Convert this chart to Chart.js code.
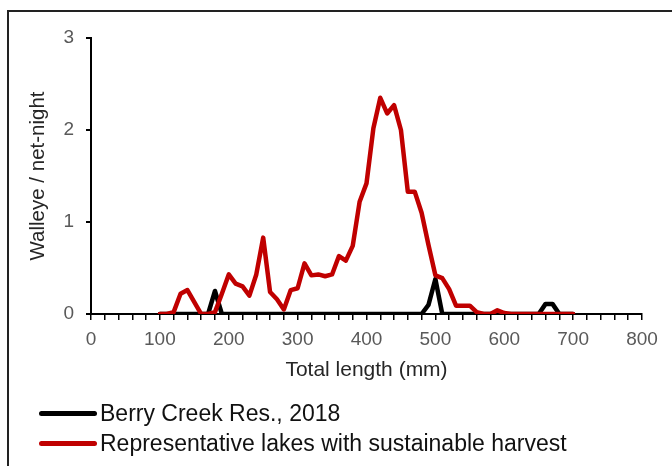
<!DOCTYPE html>
<html>
<head>
<meta charset="utf-8">
<script src="https://cdn.jsdelivr.net/npm/chart.js@4/dist/chart.umd.min.js"></script>
<style>
  html, body { margin: 0; padding: 0; background: #fff; }
  body { width: 672px; height: 466px; position: relative; overflow: hidden; font-family: 'Liberation Sans', Arial, sans-serif; }
  #frame { position: absolute; left: 7px; top: 10px; width: 700px; height: 500px; border-top: 2px solid #222; border-left: 2px solid #222; }
  #wrap { position: absolute; left: 0; top: 0; width: 672px; height: 466px; }
  .leg { position: absolute; left: 39px; display: flex; align-items: center; font-size: 23px; line-height: 26px; color: #111; white-space: nowrap; }
  .leg .ln { width: 58px; height: 5px; border-radius: 3px; margin-right: 3px; }
</style>
</head>
<body>
<div id="frame"></div>
<div id="wrap"><canvas id="c" width="672" height="466"></canvas></div>
<div class="leg" id="leg0" style="top:400px;"><span class="ln" style="background:#000"></span><span>Berry Creek Res., 2018</span></div>
<div class="leg" id="leg1" style="top:430px;"><span class="ln" style="background:#C00000"></span><span>Representative lakes with sustainable harvest</span></div>
<script>
const lengths = [100,110,120,130,140,150,160,170,180,190,200,210,220,230,240,250,260,270,280,290,300,310,320,330,340,350,360,370,380,390,400,410,420,430,440,450,460,470,480,490,500,510,520,530,540,550,560,570,580,590,600,610,620,630,640,650,660,670,680,690,700];
const berryCreek = [0,0,0,0,0,0,0,0,0.25,0,0,0,0,0,0,0,0,0,0,0,0,0,0,0,0,0,0,0,0,0,0,0,0,0,0,0,0,0,0,0.1,0.38,0,0,0,0,0,0,0,0,0,0,0,0,0,0,0,0.11,0.11,0,0,0];
const representative = [0,0,0.02,0.22,0.26,0.13,0,0,0.02,0.22,0.43,0.33,0.3,0.2,0.43,0.83,0.24,0.16,0.05,0.26,0.28,0.55,0.42,0.43,0.41,0.43,0.63,0.58,0.74,1.22,1.42,2.02,2.35,2.18,2.27,2.0,1.33,1.33,1.1,0.75,0.42,0.39,0.27,0.09,0.09,0.09,0.02,0,0,0.04,0.01,0,0,0,0,0,0,0,0,0,0];
const seriesNames = ['Berry Creek Res., 2018', 'Representative lakes with sustainable harvest'];
const xTickLabels = [0,100,200,300,400,500,600,700,800];
const yTickLabels = [0,1,2,3];

const toPts = vals => lengths.map((x, i) => ({x: x, y: vals[i]}));
const FONT = "'Liberation Sans', Arial, sans-serif";

new Chart(document.getElementById('c'), {
  type: 'line',
  data: {
    datasets: [
      { label: seriesNames[0], data: toPts(berryCreek), borderColor: '#000000', borderWidth: 4.5, pointRadius: 0, tension: 0, order: 1, borderJoinStyle: 'round', borderCapStyle: 'round' },
      { label: seriesNames[1], data: toPts(representative), borderColor: '#C00000', borderWidth: 4.5, pointRadius: 0, tension: 0, order: 0, borderJoinStyle: 'round', borderCapStyle: 'round' }
    ]
  },
  options: {
    responsive: false,
    animation: false,
    events: [],
    layout: { padding: { left: 0, right: 30, top: 38, bottom: 82 } },
    plugins: { legend: { display: false }, tooltip: { enabled: false } },
    scales: {
      x: {
        type: 'linear', min: 0, max: 800,
        afterBuildTicks: s => { const t = []; for (let v = 0; v <= 800; v += 20) t.push({value: v}); s.ticks = t; },
        afterFit: s => { s.height = 70; },
        grid: { drawOnChartArea: false, drawTicks: true, tickLength: 6, color: '#000', lineWidth: 1.5 },
        border: { color: '#000', width: 2 },
        ticks: { autoSkip: false, maxRotation: 0, padding: 8, color: '#595959', font: { family: FONT, size: 19 },
          callback: v => xTickLabels.includes(v) ? String(v) : '' },
        title: { display: true, text: 'Total length (mm)', color: '#262626', font: { family: FONT, size: 21 }, padding: { top: 0, bottom: 1 } }
      },
      y: {
        min: 0, max: 3,
        afterBuildTicks: s => { s.ticks = yTickLabels.map(v => ({value: v})); },
        afterFit: s => { s.width = 91; },
        grid: { drawOnChartArea: false, drawTicks: true, tickLength: 5, color: '#000', lineWidth: 2 },
        border: { color: '#000', width: 2 },
        ticks: { padding: 12, color: '#595959', font: { family: FONT, size: 19 }, callback: v => String(v) },
        title: { display: true, text: 'Walleye / net-night', color: '#262626', font: { family: FONT, size: 20.5 }, padding: { top: 26, bottom: 0 } }
      }
    }
  }
});
</script>
</body>
</html>
